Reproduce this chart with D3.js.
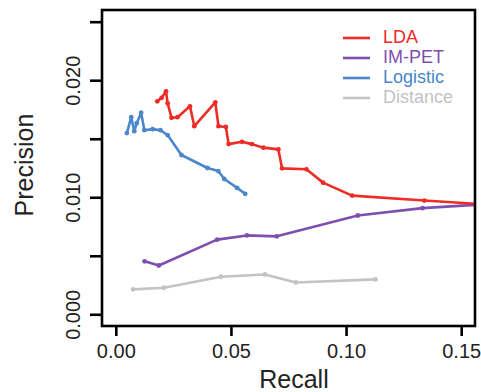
<!DOCTYPE html>
<html>
<head>
<meta charset="utf-8">
<script src="https://cdn.jsdelivr.net/npm/d3@7/dist/d3.min.js"></script>
<style>
  html, body { margin: 0; padding: 0; background: #fff; }
  svg { display: block; font-family: "Liberation Sans", Arial, Helvetica, sans-serif; }
</style>
</head>
<body>
<svg id="chart" width="481" height="392"></svg>
<script>
// Precision–recall curves for four methods
const seriesNames = ["LDA", "IM-PET", "Logistic", "Distance"];
const seriesColors = ["#ee2b25", "#7f4fb0", "#4a87cb", "#c3c3c3"];

const ldaRecall    = [0.0180, 0.0199, 0.0218, 0.0225, 0.0242, 0.0268, 0.0322, 0.0341, 0.0432, 0.0446, 0.0478, 0.0490, 0.0548, 0.0591, 0.0641, 0.0706, 0.0722, 0.0828, 0.0900, 0.1026, 0.1340, 0.1600];
const ldaPrecision = [0.01820, 0.01850, 0.01905, 0.01803, 0.01679, 0.01684, 0.01777, 0.01607, 0.01811, 0.01607, 0.01601, 0.01454, 0.01474, 0.01454, 0.01424, 0.01409, 0.01247, 0.01239, 0.01125, 0.01014, 0.00972, 0.00940];

const impetRecall    = [0.0125, 0.0187, 0.0440, 0.0569, 0.0699, 0.1051, 0.1332, 0.1600];
const impetPrecision = [0.00453, 0.00417, 0.00638, 0.00674, 0.00666, 0.00844, 0.00907, 0.00940];

const logisticRecall    = [0.0048, 0.0067, 0.0080, 0.0091, 0.0110, 0.0124, 0.0160, 0.0194, 0.0225, 0.0285, 0.0398, 0.0445, 0.0471, 0.0527, 0.0562];
const logisticPrecision = [0.01548, 0.01684, 0.01565, 0.01633, 0.01722, 0.01573, 0.01582, 0.01573, 0.01531, 0.01361, 0.01250, 0.01224, 0.01156, 0.01080, 0.01029];

const distanceRecall    = [0.0075, 0.0209, 0.0457, 0.0648, 0.0782, 0.1128];
const distancePrecision = [0.00213, 0.00227, 0.00321, 0.00340, 0.00272, 0.00298];

const xTicks = [0, 0.05, 0.10, 0.15];
const xTickLabels = ["0.00", "0.05", "0.10", "0.15"];
const yTicks = [0, 0.005, 0.010, 0.015, 0.020, 0.025];
const yTickLabels = ["0.000", "", "0.010", "", "0.020", ""];

const series = [
  { name: seriesNames[0], color: seriesColors[0], xs: ldaRecall, ys: ldaPrecision },
  { name: seriesNames[1], color: seriesColors[1], xs: impetRecall, ys: impetPrecision },
  { name: seriesNames[2], color: seriesColors[2], xs: logisticRecall, ys: logisticPrecision },
  { name: seriesNames[3], color: seriesColors[3], xs: distanceRecall, ys: distancePrecision }
];

const svg = d3.select("#chart");
const box = { left: 102, right: 475, top: 10, bottom: 326 };

const x = d3.scaleLinear().domain([-0.006, 0.156]).range([box.left, box.right]);
const y = d3.scaleLinear().domain([-0.001, 0.026]).range([box.bottom, box.top]);

svg.append("defs").append("clipPath").attr("id", "plotClip")
  .append("rect")
  .attr("x", box.left).attr("y", box.top)
  .attr("width", box.right - box.left).attr("height", box.bottom - box.top);

// Curves
const line = d3.line().x(d => x(d[0])).y(d => y(d[1]));
const plot = svg.append("g").attr("clip-path", "url(#plotClip)");

series.slice().reverse().forEach(s => {
  const pts = s.xs.map((v, i) => [v, s.ys[i]]);
  const g = plot.append("g");
  g.append("path")
    .attr("d", line(pts))
    .attr("fill", "none")
    .attr("stroke", s.color)
    .attr("stroke-width", 2.6)
    .attr("stroke-linejoin", "round")
    .attr("stroke-linecap", "round");
  g.selectAll("circle").data(pts).join("circle")
    .attr("cx", d => x(d[0]))
    .attr("cy", d => y(d[1]))
    .attr("r", 2.4)
    .attr("fill", s.color);
});

// Frame
svg.append("rect")
  .attr("x", box.left).attr("y", box.top)
  .attr("width", box.right - box.left).attr("height", box.bottom - box.top)
  .attr("fill", "none").attr("stroke", "#000").attr("stroke-width", 2.6);

// Axes
const xAxis = d3.axisBottom(x).tickValues(xTicks).tickSize(10).tickPadding(4)
  .tickFormat((d, i) => xTickLabels[i]);
const gx = svg.append("g").attr("transform", `translate(0,${box.bottom})`).call(xAxis);
gx.select(".domain").remove();
gx.selectAll(".tick line").attr("stroke", "#000").attr("stroke-width", 2.6);
gx.selectAll(".tick text").attr("fill", "#222").attr("font-size", 20).attr("dy", "0.9em");

const yAxis = d3.axisLeft(y).tickValues(yTicks).tickSize(12).tickPadding(0)
  .tickFormat((d, i) => yTickLabels[i]);
const gy = svg.append("g").attr("transform", `translate(${box.left},0)`).call(yAxis);
gy.select(".domain").remove();
gy.selectAll(".tick line").attr("stroke", "#000").attr("stroke-width", 2.6);
gy.selectAll(".tick text")
  .attr("fill", "#222").attr("font-size", 20)
  .attr("x", null).attr("dy", null)
  .attr("text-anchor", "middle")
  .attr("transform", "translate(-22,0) rotate(-90)");

// Axis titles
svg.append("text")
  .attr("x", 294).attr("y", 388)
  .attr("text-anchor", "middle")
  .attr("font-size", 25).attr("fill", "#222")
  .text("Recall");

svg.append("text")
  .attr("transform", "translate(33,165) rotate(-90)")
  .attr("text-anchor", "middle")
  .attr("font-size", 25).attr("fill", "#222")
  .text("Precision");

// Legend
const legend = svg.append("g");
series.forEach((s, i) => {
  const ry = 37 + i * 20;
  legend.append("line")
    .attr("x1", 343).attr("x2", 370)
    .attr("y1", ry + 1).attr("y2", ry + 1)
    .attr("stroke", s.color).attr("stroke-width", 2.6);
  legend.append("text")
    .attr("x", 383).attr("y", ry + 6)
    .attr("font-size", 18)
    .attr("fill", s.color)
    .text(s.name);
});
</script>
</body>
</html>
